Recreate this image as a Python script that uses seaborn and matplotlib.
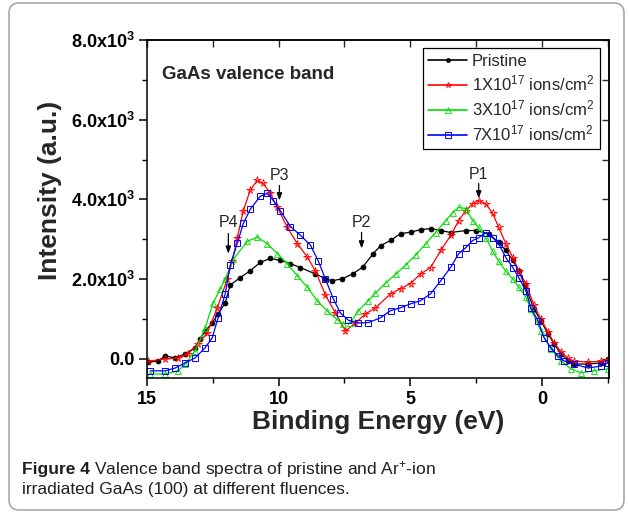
import matplotlib
matplotlib.use("Agg")
import matplotlib.pyplot as plt
import matplotlib.font_manager as fm
from matplotlib.transforms import IdentityTransform
from matplotlib.patches import FancyBboxPatch
from matplotlib.lines import Line2D
from matplotlib.ticker import FixedLocator, MultipleLocator
import numpy as np
import pandas as pd
import seaborn as sns

# ---------------- data ----------------
energy_pristine = [14.96, 14.58, 14.31, 13.93, 13.55, 13.17, 12.98, 12.79, 12.52, 12.30,
                   12.03, 11.84, 11.46, 11.08, 10.70, 10.32, 9.94, 9.55, 9.17, 8.60,
                   8.22, 7.96, 7.58, 7.19, 6.81, 6.43, 6.13, 5.75, 5.37, 4.99,
                   4.61, 4.23, 3.84, 3.46, 2.89, 2.51, 2.02, 1.64, 1.37, 1.10,
                   0.88, 0.65, 0.30, 0.04, -0.23, -0.46, -0.72, -0.99, -1.22, -1.75,
                   -2.25, -2.51]
intensity_pristine = [-90, -50, 75, 25, 125, 280, 500, 700, 900, 1130,
                      1400, 1850, 2040, 2210, 2420, 2520, 2470, 2390, 2290, 2130,
                      2010, 1960, 2010, 2130, 2300, 2620, 2840, 2970, 3140, 3180,
                      3240, 3270, 3220, 3170, 3220, 3220, 3140, 2920, 2720, 2470,
                      2210, 1850, 1250, 960, 630, 380, 130, -50, -130, -130,
                      -100, 0]

energy_1e17 = [14.96, 14.31, 13.82, 13.44, 13.06, 12.71, 12.33, 11.95, 11.76, 11.57,
               11.34, 11.08, 10.81, 10.58, 10.32, 10.05, 9.67, 9.29, 8.91, 8.60,
               8.22, 7.84, 7.46, 7.08, 6.70, 6.32, 5.75, 5.37, 4.99, 4.61,
               4.23, 3.84, 3.46, 3.16, 2.89, 2.63, 2.40, 2.13, 1.87, 1.64,
               1.37, 1.10, 0.88, 0.61, 0.30, 0.04, -0.23, -0.46, -0.72, -0.99,
               -1.22, -1.75, -2.25, -2.51]
intensity_1e17 = [-60, 0, 20, 125, 380, 650, 1280, 2000, 2450, 3040,
                  3720, 4230, 4480, 4400, 4150, 3800, 3300, 2890, 2560, 2200,
                  1600, 1150, 700, 900, 1130, 1280, 1630, 1760, 1890, 2130,
                  2290, 2720, 3100, 3470, 3720, 3890, 3970, 3890, 3650, 3300,
                  2890, 2540, 2210, 1890, 1350, 1000, 680, 400, 180, 20,
                  -60, -80, -60, -20]

energy_3e17 = [14.88, 14.31, 13.82, 13.55, 13.17, 12.79, 12.49, 12.22, 12.03, 11.72,
               11.19, 10.81, 10.43, 10.05, 9.67, 9.29, 8.91, 8.53, 8.15, 7.77,
               7.54, 7.27, 6.97, 6.59, 6.32, 5.94, 5.56, 5.18, 4.80, 4.42,
               4.04, 3.65, 3.39, 3.16, 2.89, 2.63, 2.40, 2.13, 1.87, 1.64,
               1.37, 1.10, 0.88, 0.61, 0.42, 0.04, -0.34, -0.72, -1.10, -1.48,
               -1.98, -2.51]
intensity_3e17 = [-380, -380, -300, -130, 200, 780, 1400, 1750, 2000, 2500,
                  2950, 3050, 2890, 2640, 2390, 2080, 1800, 1450, 1200, 980,
                  880, 900, 1210, 1460, 1650, 1900, 2120, 2350, 2600, 2880,
                  3170, 3470, 3670, 3800, 3770, 3470, 3300, 3040, 2700, 2450,
                  2200, 2000, 1800, 1550, 1250, 700, 250, -50, -250, -350,
                  -300, -250]

energy_7e17 = [14.88, 14.31, 13.93, 13.55, 13.17, 12.79, 12.52, 12.30, 12.03, 11.84,
               11.57, 11.34, 11.08, 10.70, 10.43, 10.20, 9.94, 9.55, 9.17, 8.79,
               8.49, 8.22, 7.92, 7.65, 7.35, 6.97, 6.59, 6.13, 5.75, 5.37,
               4.99, 4.61, 4.23, 3.84, 3.46, 3.16, 2.89, 2.63, 2.40, 2.13,
               1.87, 1.64, 1.37, 1.10, 0.88, 0.61, 0.42, 0.15, -0.08, -0.34,
               -0.61, -0.84, -1.22, -1.75, -2.25, -2.51]
intensity_7e17 = [-300, -300, -230, -100, 25, 280, 530, 1030, 1630, 2350,
                  2900, 3400, 3750, 4080, 4150, 3970, 3720, 3320, 3100, 2850,
                  2450, 2000, 1500, 1150, 970, 900, 910, 1030, 1210, 1280,
                  1380, 1460, 1630, 1960, 2300, 2640, 2790, 2970, 3040, 3170,
                  3040, 2890, 2540, 2290, 2040, 1710, 1280, 960, 530, 280,
                  75, -50, -130, -230, -180, -100]

series_labels = ["Pristine",
                 r"1X10$^{17}$ ions/cm$^{2}$",
                 r"3X10$^{17}$ ions/cm$^{2}$",
                 r"7X10$^{17}$ ions/cm$^{2}$"]
series_colors = ["#000000", "#ff0000", "#00e000", "#0000ff"]

x_ticks = [15, 10, 5, 0]
x_tick_labels = ["15", "10", "5", "0"]
y_ticks = [0, 2000, 4000, 6000, 8000]
y_tick_labels = ["0.0", r"2.0x10$^{\mathbf{3}}$", r"4.0x10$^{\mathbf{3}}$",
                 r"6.0x10$^{\mathbf{3}}$", r"8.0x10$^{\mathbf{3}}$"]

peak_labels = ["P1", "P2", "P3", "P4"]
peak_energy = [2.40, 6.85, 9.97, 11.91]
peak_tip = [4025, 2770, 3975, 2640]
peak_tail = [4400, 3170, 4350, 3145]
peak_text = [4620, 3420, 4600, 3420]

# ---------------- style ----------------
sns.set_theme(style="ticks")
plt.rcParams["font.family"] = ["Liberation Sans", "DejaVu Sans"]
plt.rcParams["mathtext.fontset"] = "custom"
plt.rcParams["mathtext.rm"] = "Liberation Sans"
plt.rcParams["mathtext.it"] = "Liberation Sans:italic"
plt.rcParams["mathtext.bf"] = "Liberation Sans:bold"

W, H = 629, 512
fig = plt.figure(figsize=(W / 100, H / 100), dpi=100)
fig.patch.set_facecolor("white")

ax_l, ax_r, ax_t, ax_b = 147, 609, 40, 378
ax = fig.add_axes([ax_l / W, 1 - ax_b / H, (ax_r - ax_l) / W, (ax_b - ax_t) / H])
ax.set_facecolor("white")

series = [
    (energy_pristine, intensity_pristine, "o", 3.6, True, 0.5),
    (energy_1e17, intensity_1e17, "*", 5.5, False, 0.6),
    (energy_3e17, intensity_3e17, "^", 5.0, False, 0.6),
    (energy_7e17, intensity_7e17, "s", 4.6, False, 0.7),
]

for (e, i, m, ms, filled, mew), lab, col in zip(series, series_labels, series_colors):
    df = pd.DataFrame({"energy": e, "intensity": i})
    sns.lineplot(data=df, x="energy", y="intensity", ax=ax, color=col,
                 marker=m, markersize=ms,
                 markerfacecolor=col if filled else "none",
                 markeredgecolor=col, markeredgewidth=mew,
                 linewidth=0.9, sort=False, estimator=None, legend=False)

ax.set_xlim(15, -2.55)
ax.set_ylim(-480, 8000)

ax.xaxis.set_major_locator(FixedLocator(x_ticks))
ax.set_xticklabels(x_tick_labels)
ax.xaxis.set_minor_locator(MultipleLocator(2.5))
ax.yaxis.set_major_locator(FixedLocator(y_ticks))
ax.set_yticklabels(y_tick_labels)
ax.yaxis.set_minor_locator(MultipleLocator(1000))

for lab in ax.get_xticklabels():
    lab.set_fontweight("bold")
    lab.set_fontsize(13)
for lab in ax.get_yticklabels():
    lab.set_fontweight("bold")
    lab.set_fontsize(13)

ax.tick_params(which="major", direction="out", length=6, width=1.1, color="black",
               pad=3, labelcolor="black")
ax.tick_params(which="minor", direction="out", length=3.5, width=1.0, color="black")
for sp in ax.spines.values():
    sp.set_linewidth(1.1)
    sp.set_color("black")

# mirrored inward ticks on top / right
top = ax.secondary_xaxis("top")
top.xaxis.set_major_locator(FixedLocator(x_ticks))
top.xaxis.set_minor_locator(MultipleLocator(2.5))
top.tick_params(which="both", direction="in", length=5, width=1.0, labeltop=False)
right = ax.secondary_yaxis("right")
right.yaxis.set_major_locator(FixedLocator(y_ticks))
right.yaxis.set_minor_locator(MultipleLocator(1000))
right.tick_params(which="both", direction="in", length=5, width=1.0, labelright=False)

ax.set_xlabel("Binding Energy (eV)", fontsize=19, fontweight="bold", labelpad=2)
ax.set_ylabel("")
fig.text(50 / W, 1 - 190 / H, "Intensity (a.u.)", rotation=90, fontsize=19,
         fontweight="bold", ha="center", va="center")

ax.text(0.0325, 0.899, "GaAs valence band", transform=ax.transAxes,
        fontsize=13.5, fontweight="bold", ha="left", va="center")

for lab, e, tip, tail, ty in zip(peak_labels, peak_energy, peak_tip, peak_tail, peak_text):
    ax.text(e, ty, lab, fontsize=11.5, ha="center", va="center")
    ax.annotate("", xy=(e, tip), xytext=(e, tail),
                arrowprops=dict(arrowstyle="-|>,head_length=0.35,head_width=0.13",
                                color="black", lw=0.9, shrinkA=0, shrinkB=0))

handles = []
for (e, i, m, ms, filled, mew), col in zip(series, series_colors):
    handles.append(Line2D([], [], color=col, marker=m, markersize=ms * 0.8,
                          markerfacecolor=col if filled else "none",
                          markeredgecolor=col, markeredgewidth=mew, linewidth=1.2))
leg = ax.legend(handles, series_labels, loc="upper right",
                bbox_to_anchor=((600 - ax_l) / (ax_r - ax_l), (ax_b - 48) / (ax_b - ax_t)),
                borderaxespad=0, fontsize=12, frameon=True, fancybox=False,
                framealpha=1, edgecolor="black", handlelength=2.3,
                handletextpad=0.3, labelspacing=0.3, borderpad=0.35, numpoints=1)
leg.get_frame().set_linewidth(0.9)

# ---------------- caption ----------------
cap_font = "Liberation Sans"
try:
    fm.findfont(fm.FontProperties(family="Liberation Sans Narrow"), fallback_to_default=False)
    cap_font = "Liberation Sans Narrow"
except Exception:
    pass

cap_color = "#231f20"
t1 = fig.text(22 / W, 1 - 474 / H, "Figure 4", fontsize=12.5, fontweight="bold",
              family=[cap_font, "DejaVu Sans"], color=cap_color, va="baseline")
fig.canvas.draw()
bb = t1.get_window_extent()
fig.text((bb.x1 + 4) / W, 1 - 474 / H, r"Valence band spectra of pristine and Ar$^{+}$-ion",
         fontsize=12.5, family=[cap_font, "DejaVu Sans"], color=cap_color, va="baseline")
fig.text(22 / W, 1 - 494 / H, "irradiated GaAs (100) at different fluences.",
         fontsize=12.5, family=[cap_font, "DejaVu Sans"], color=cap_color, va="baseline")

# rounded border round the whole figure
border = FancyBboxPatch((9, 2), 615, 507, boxstyle="round,pad=0,rounding_size=10",
                        transform=IdentityTransform(), facecolor="none",
                        edgecolor="#a8a8a8", linewidth=1.2)
fig.add_artist(border)

fig.savefig("out.png", dpi=100, facecolor="white")
